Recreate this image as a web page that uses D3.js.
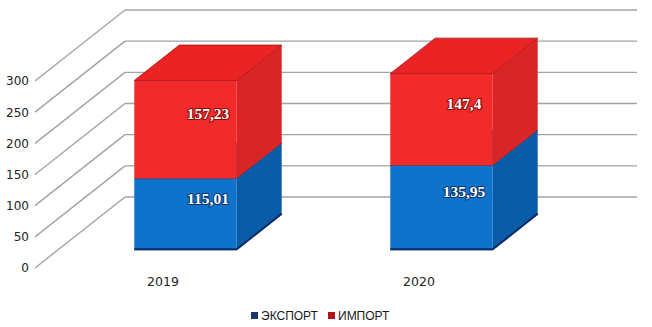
<!DOCTYPE html>
<html>
<head>
<meta charset="utf-8">
<script src="https://cdn.jsdelivr.net/npm/d3@7"></script>
<style>
  body { margin: 0; background: #fff; }
  svg { display: block; }
</style>
</head>
<body>
<div id="chart"></div>
<script>
// chart data
const years = ["2019", "2020"];
const exportVals = [115.01, 135.95];
const importVals = [157.23, 147.4];
const exportLabels = ["115,01", "135,95"];
const importLabels = ["157,23", "147,4"];
const yTicks = [0, 50, 100, 150, 200, 250, 300];
const legendNames = ["ЭКСПОРТ", "ИМПОРТ"];

const W = 652, H = 327;

// 3d depth: full wall depth offset, bars sit between z0 and z1
const depth = {dx: 90, dy: -71};
const z0 = 0.25, z1 = 0.75;
function px(x, z) { return x + z * depth.dx; }
function py(y, z) { return y + z * depth.dy; }

const svg = d3.select("#chart")
  .append("svg")
    .attr("width", W)
    .attr("height", H);

// scales on the front plane
const x = d3.scaleBand()
  .domain(years)
  .range([35, 547])
  .paddingInner(0.6)
  .paddingOuter(0.3);

const y = d3.scaleLinear()
  .domain([0, 300])
  .range([268, 81]);

// grid: diagonal left wall + back wall lines
const grid = svg.append("g")
  .attr("stroke", "#a3a3a3")
  .attr("stroke-width", 1.4)
  .attr("fill", "none");

grid.selectAll("line.diag")
  .data(yTicks)
  .enter().append("line")
    .attr("class", "diag")
    .attr("x1", 35).attr("y1", d => y(d))
    .attr("x2", px(35, 1)).attr("y2", d => py(y(d), 1));

grid.selectAll("line.back")
  .data(yTicks)
  .enter().append("line")
    .attr("class", "back")
    .attr("x1", px(35, 1)).attr("y1", d => py(y(d), 1))
    .attr("x2", px(547, 1)).attr("y2", d => py(y(d), 1));

// y axis labels
const yAxis = svg.append("g")
  .attr("transform", "translate(35,0)")
  .call(d3.axisLeft(y).tickValues(yTicks).tickSize(0).tickPadding(6));
yAxis.select(".domain").remove();
yAxis.selectAll("text")
  .attr("font-family", "DejaVu Sans")
  .attr("font-size", 12)
  .attr("fill", "#222");

// x axis labels
const xAxis = svg.append("g")
  .attr("transform", "translate(0,277)")
  .call(d3.axisBottom(x).tickSize(0).tickPadding(0));
xAxis.select(".domain").remove();
xAxis.selectAll("text")
  .attr("font-family", "DejaVu Sans")
  .attr("font-size", 12.5)
  .attr("fill", "#222");

// stacked segments
const segs = [];
years.forEach((yr, i) => {
  segs.push({year: yr, v0: 0, v1: exportVals[i], label: exportLabels[i],
    front: "#0d73cb", side: "#0b5ca8", top: "#1468b8", edge: "#0a2c6a", halo: "#0a3570"});
  segs.push({year: yr, v0: exportVals[i], v1: exportVals[i] + importVals[i], label: importLabels[i],
    front: "#f32a2a", side: "#d92525", top: "#ec2323", edge: "#a50d0d", halo: "#8a0a0a"});
});

const bars = svg.append("g");

segs.forEach(s => {
  const xl = x(s.year), xr = x(s.year) + x.bandwidth();
  const yb = y(s.v0), yt = y(s.v1);
  const g = bars.append("g");

  // front face
  g.append("rect")
    .attr("x", px(xl, z0))
    .attr("y", py(yt, z0))
    .attr("width", xr - xl)
    .attr("height", yb - yt)
    .attr("fill", s.front);

  // right side
  g.append("polygon")
    .attr("points", [
      [px(xr, z0), py(yt, z0)], [px(xr, z1), py(yt, z1)],
      [px(xr, z1), py(yb, z1)], [px(xr, z0), py(yb, z0)]
    ].map(p => p.join(",")).join(" "))
    .attr("fill", s.side);

  // top face
  g.append("polygon")
    .attr("points", [
      [px(xl, z0), py(yt, z0)], [px(xl, z1), py(yt, z1)],
      [px(xr, z1), py(yt, z1)], [px(xr, z0), py(yt, z0)]
    ].map(p => p.join(",")).join(" "))
    .attr("fill", s.top)
    .attr("stroke", s.edge)
    .attr("stroke-width", 0.8)
    .attr("stroke-linejoin", "round");

  if (s.v0 === 0) {
    // dark bottom edge
    g.append("polyline")
      .attr("points", [
        [px(xl, z0), py(yb, z0) - 1], [px(xr, z0), py(yb, z0) - 1], [px(xr, z1), py(yb, z1) - 1]
      ].map(p => p.join(",")).join(" "))
      .attr("fill", "none")
      .attr("stroke", s.edge)
      .attr("stroke-width", 2);
  }
});

// value labels, centred in the bar volume
segs.forEach(s => {
  const cx = x(s.year) + x.bandwidth() / 2;
  const cy = (y(s.v0) + y(s.v1)) / 2;
  const zm = (z0 + z1) / 2;
  svg.append("text")
    .attr("x", px(cx, zm))
    .attr("y", py(cy, zm) + 1.5)
    .attr("text-anchor", "middle")
    .attr("dominant-baseline", "central")
    .attr("font-family", "Liberation Serif")
    .attr("font-weight", "bold")
    .attr("font-size", 15.5)
    .attr("fill", "#fff")
    .attr("stroke", s.halo)
    .attr("stroke-width", 2)
    .attr("paint-order", "stroke")
    .text(s.label);
});

// legend
const legendColors = ["#1c3570", "#b3141a"];
const legendX = [251, 328];
const legend = svg.append("g");
legendNames.forEach((name, i) => {
  legend.append("rect")
    .attr("x", legendX[i])
    .attr("y", 312)
    .attr("width", 7)
    .attr("height", 7)
    .attr("fill", legendColors[i]);
  legend.append("text")
    .attr("x", legendX[i] + 10)
    .attr("y", 320)
    .attr("font-family", "Liberation Sans")
    .attr("font-size", 12)
    .attr("fill", "#1a1a1a")
    .text(name);
});
</script>
</body>
</html>
